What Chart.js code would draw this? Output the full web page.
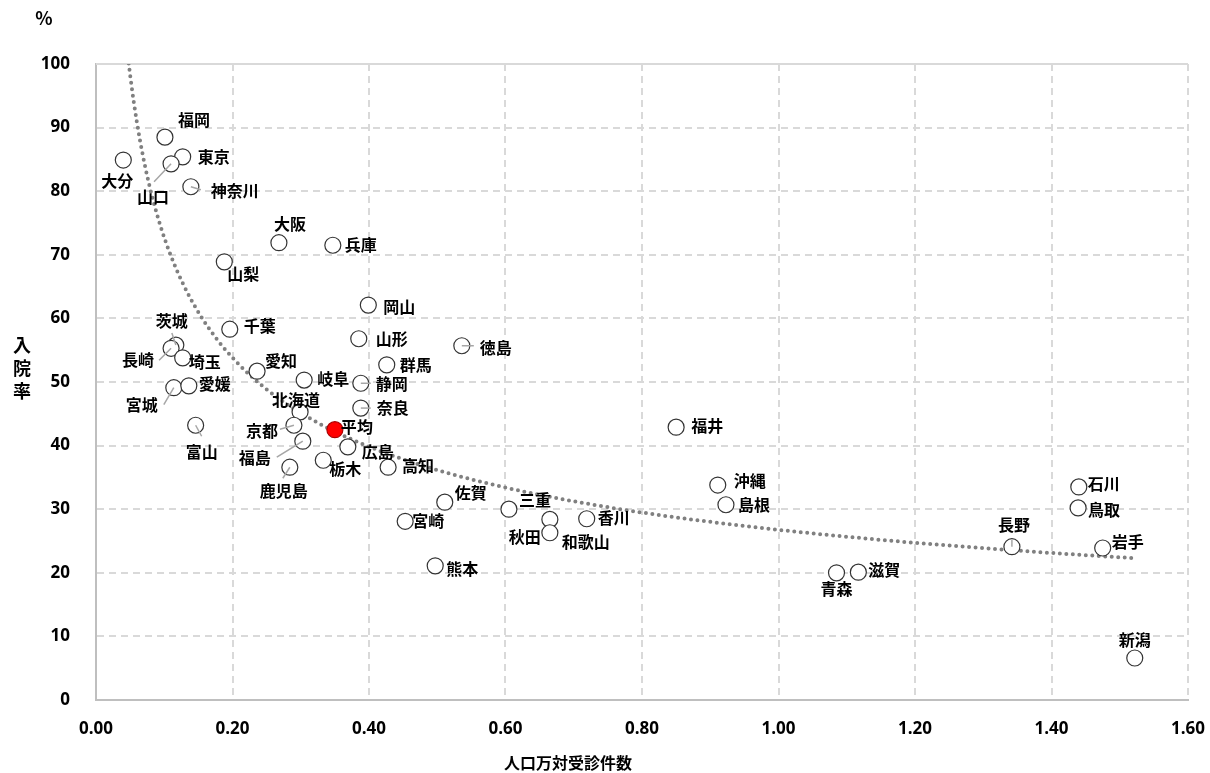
<!DOCTYPE html>
<html>
<head>
<meta charset="utf-8">
<script src="https://cdn.jsdelivr.net/npm/chart.js@4"></script>
<style>
  html, body { margin: 0; padding: 0; background: #fff; }
  #wrap { width: 1210px; height: 773px; }
</style>
</head>
<body>
<div id="wrap"><canvas id="chart"></canvas></div>
<script>
// data
var prefNames = ["福岡", "東京", "山口", "大分", "神奈川", "大阪", "兵庫", "山梨", "岡山", "千葉",
  "山形", "徳島", "茨城", "長崎", "埼玉", "愛知", "岐阜", "静岡", "群馬", "宮城",
  "愛媛", "北海道", "奈良", "富山", "京都", "福島", "広島", "鹿児島", "栃木", "高知",
  "佐賀", "三重", "宮崎", "秋田", "和歌山", "香川", "熊本", "福井", "沖縄", "島根",
  "長野", "青森", "滋賀", "石川", "鳥取", "岩手", "新潟"];
var visits = [0.101, 0.127, 0.110, 0.040, 0.139, 0.268, 0.347, 0.188, 0.399, 0.196,
  0.385, 0.536, 0.117, 0.110, 0.127, 0.236, 0.305, 0.388, 0.426, 0.114,
  0.136, 0.299, 0.388, 0.146, 0.290, 0.303, 0.369, 0.284, 0.333, 0.428,
  0.511, 0.605, 0.453, 0.665, 0.665, 0.719, 0.497, 0.850, 0.911, 0.923,
  1.342, 1.085, 1.117, 1.440, 1.439, 1.475, 1.522];
var admitRate = [88.5, 85.4, 84.3, 84.9, 80.7, 71.9, 71.5, 68.9, 62.1, 58.3,
  56.8, 55.7, 55.8, 55.3, 53.8, 51.7, 50.3, 49.8, 52.7, 49.1,
  49.4, 45.3, 45.9, 43.2, 43.2, 40.7, 39.8, 36.6, 37.7, 36.6,
  31.1, 30.0, 28.1, 28.4, 26.3, 28.5, 21.1, 42.9, 33.8, 30.7,
  24.1, 20.0, 20.1, 33.5, 30.2, 23.9, 6.6];
var avgName = "平均";
var avgVisits = 0.350;
var avgRate = 42.5;
var xTicks = [0, 0.2, 0.4, 0.6, 0.8, 1.0, 1.2, 1.4, 1.6];

// label offsets in px [dx, dy], optional leader end [lx, ly]
var labelPos = {
  "福岡": [29, -17], "東京": [31, 0], "山口": [-18, 33, -17, 18], "大分": [-6, 21],
  "神奈川": [44, 4, 10, 3], "大阪": [11, -19], "兵庫": [28, 0], "山梨": [19, 12],
  "岡山": [31, 2], "千葉": [30, -3], "山形": [33, 0], "徳島": [34, 2, 12, 0],
  "茨城": [-4, -24, -4, -12], "長崎": [-33, 12, -12, 12], "埼玉": [22, 4],
  "愛知": [24, -10], "岐阜": [29, -1], "静岡": [31, 1, 10, 0], "群馬": [29, 0],
  "宮城": [-32, 17, -10, 17], "愛媛": [26, -2], "北海道": [-4, -12],
  "奈良": [32, 0, 10, 0], "富山": [6, 27, 6, 11], "京都": [-32, 6, -14, 4],
  "福島": [-48, 17, -26, 16], "広島": [30, 5], "鹿児島": [-6, 24, -7, 11],
  "栃木": [22, 9], "高知": [30, -1], "佐賀": [26, -9], "三重": [26, -9],
  "宮崎": [23, 0], "秋田": [-25, 18], "和歌山": [36, 9], "香川": [27, -1],
  "熊本": [27, 3], "福井": [31, -1], "沖縄": [32, -4], "島根": [28, 0],
  "長野": [2, -22, 0, -7], "青森": [0, 16], "滋賀": [26, -2], "石川": [25, -3],
  "鳥取": [26, 2], "岩手": [25, -6], "新潟": [0, -18], "平均": [22, -3]
};

// power trendline fitted on the prefecture points (log-log least squares)
var sx = 0, sy = 0, sxx = 0, sxy = 0;
for (var i = 0; i < visits.length; i++) {
  var lx = Math.log(visits[i]), ly = Math.log(admitRate[i]);
  sx += lx; sy += ly; sxx += lx * lx; sxy += lx * ly;
}
var n = visits.length;
var trendB = (n * sxy - sx * sy) / (n * sxx - sx * sx);
var trendA = Math.exp((sy - trendB * sx) / n);
var trendPts = [];
var xMin = Math.min.apply(null, visits), xMax = Math.max.apply(null, visits);
for (var k = 0; k <= 300; k++) {
  var xv = xMin + (xMax - xMin) * k / 300;
  trendPts.push({ x: xv, y: trendA * Math.pow(xv, trendB) });
}

var points = prefNames.map(function (nm, i) { return { x: visits[i], y: admitRate[i], name: nm }; });

var labelFont = 'bold 16px "Noto Sans CJK JP", sans-serif';

var labelPlugin = {
  id: 'labels',
  beforeDatasetsDraw: function (chart) {
    // solid top frame line
    var ctx = chart.ctx, a = chart.chartArea;
    ctx.save();
    ctx.strokeStyle = '#d9d9d9';
    ctx.lineWidth = 2;
    ctx.beginPath();
    ctx.moveTo(a.left, a.top);
    ctx.lineTo(a.right, a.top);
    ctx.stroke();
    ctx.restore();
  },
  afterDatasetsDraw: function (chart) {
    var ctx = chart.ctx;
    var xs = chart.scales.x, ys = chart.scales.y;
    var all = points.concat([{ x: avgVisits, y: avgRate, name: avgName }]);
    ctx.save();
    // leader lines
    ctx.strokeStyle = '#a6a6a6';
    ctx.lineWidth = 1.5;
    all.forEach(function (p) {
      var lp = labelPos[p.name];
      if (lp && lp.length > 2) {
        var px = xs.getPixelForValue(p.x), py = ys.getPixelForValue(p.y);
        ctx.beginPath();
        ctx.moveTo(px, py);
        ctx.lineTo(px + lp[2], py + lp[3]);
        ctx.stroke();
      }
    });
    ctx.font = labelFont;
    ctx.fillStyle = '#000';
    ctx.textAlign = 'center';
    ctx.textBaseline = 'middle';
    all.forEach(function (p) {
      var lp = labelPos[p.name] || [25, 0];
      var px = xs.getPixelForValue(p.x), py = ys.getPixelForValue(p.y);
      ctx.fillText(p.name, px + lp[0], py + lp[1]);
    });
    // axis titles
    ctx.font = 'bold 18px "Noto Sans CJK JP", sans-serif';
    ctx.fillText('%', 44, 18);
    ctx.fillText('入', 22, 345);
    ctx.fillText('院', 22, 368);
    ctx.fillText('率', 22, 391);
    ctx.font = 'bold 16px "Noto Sans CJK JP", sans-serif';
    ctx.fillText('人口万対受診件数', 568, 763);
    ctx.restore();
  }
};

new Chart(document.getElementById('chart'), {
  type: 'scatter',
  data: {
    datasets: [
      {
        label: 'trend',
        data: trendPts,
        showLine: true,
        pointRadius: 0,
        borderColor: '#808080',
        borderWidth: 4,
        borderDash: [0, 6.5],
        borderCapStyle: 'round',
        order: 3
      },
      {
        label: 'prefectures',
        data: points,
        pointRadius: 8,
        pointBorderWidth: 1.2,
        pointBorderColor: '#333',
        pointBackgroundColor: '#fff',
        order: 2
      },
      {
        label: 'average',
        data: [{ x: avgVisits, y: avgRate }],
        pointRadius: 8,
        pointBorderWidth: 1.2,
        pointBorderColor: '#a00',
        pointBackgroundColor: '#ff0000',
        order: 1
      }
    ]
  },
  options: {
    responsive: true,
    maintainAspectRatio: false,
    animation: false,
    layout: { padding: { left: 0, right: 22, top: 64, bottom: 0 } },
    plugins: {
      legend: { display: false },
      tooltip: { enabled: false }
    },
    scales: {
      x: {
        type: 'linear',
        min: 0,
        max: 1.6,
        afterBuildTicks: function (s) { s.ticks = xTicks.map(function (v) { return { value: v }; }); },
        afterFit: function (s) { s.height = 73; s.paddingLeft = 0; s.paddingRight = 0; },
        ticks: {
          padding: 19,
          color: '#000',
          font: { family: '"Open Sans", sans-serif', size: 17, weight: 'bold' },
          callback: function (v) { return v.toFixed(2); }
        },
        grid: {
          color: function (c) { return c.tick && c.tick.value === 0 ? 'rgba(0,0,0,0)' : '#d9d9d9'; },
          lineWidth: 2,
          drawTicks: false
        },
        border: { display: true, color: '#bfbfbf', width: 2, dash: [7, 5] }
      },
      y: {
        min: 0,
        max: 100,
        afterFit: function (s) { s.width = 96; s.paddingTop = 0; s.paddingBottom = 0; },
        ticks: {
          stepSize: 10,
          padding: 26,
          color: '#000',
          font: { family: '"Open Sans", sans-serif', size: 17, weight: 'bold' }
        },
        grid: {
          color: function (c) { return c.tick && (c.tick.value === 0 || c.tick.value === 100) ? 'rgba(0,0,0,0)' : '#d9d9d9'; },
          lineWidth: 2,
          drawTicks: false
        },
        border: { display: true, color: '#bfbfbf', width: 2, dash: [7, 5] }
      }
    }
  },
  plugins: [labelPlugin]
});
</script>
</body>
</html>
